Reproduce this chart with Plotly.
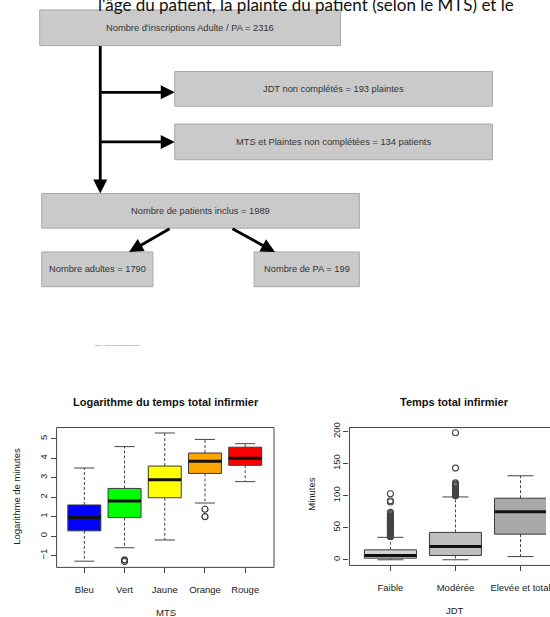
import plotly.graph_objects as go

W, H = 550, 617

# ---------------- data ----------------
flow_labels = [
    "Nombre d'inscriptions Adulte / PA = 2316",
    "JDT non complétés = 193 plaintes",
    "MTS et Plaintes non complétées = 134 patients",
    "Nombre de patients inclus = 1989",
    "Nombre adultes = 1790",
    "Nombre de PA = 199",
]

mts_cats = ["Bleu", "Vert", "Jaune", "Orange", "Rouge"]
mts_low = [-1.29, -0.6, -0.2, 1.7, 2.8]
mts_q1 = [0.27, 0.95, 1.97, 3.22, 3.64]
mts_med = [0.95, 1.8, 2.9, 3.85, 4.0]
mts_q3 = [1.6, 2.45, 3.6, 4.27, 4.57]
mts_high = [3.5, 4.6, 5.3, 4.97, 4.75]
mts_colors = ["#0000FF", "#00FF00", "#FFFF00", "#FFA500", "#FF0000"]
mts_out_cat = [2, 2, 4, 4]
mts_out_val = [-1.22, -1.3, 1.38, 1.0]

jdt_cats = ["Faible", "Modérée", "Elevée et total"]
jdt_low = [0, 0, 5]
jdt_q1 = [2.5, 6.7, 40]
jdt_med = [6.7, 20.6, 75]
jdt_q3 = [15.5, 42.7, 96]
jdt_high = [35, 98, 131]
jdt_colors = ["#d3d3d3", "#bebebe", "#a9a9a9"]
faible_out = [36, 37, 38, 39, 40, 41, 42, 43, 44, 45, 46, 47, 48, 49, 50, 51, 52,
              53, 54, 55, 56, 57, 58, 59, 60, 61, 62, 63, 64, 65, 66, 67, 68, 70,
              72, 74, 90, 92, 103]
moderee_out = [100, 101, 102, 103, 104, 105, 106, 107, 108, 110, 112, 114, 116,
               118, 120, 143, 198]

# ---------------- helpers ----------------
def px(x):
    return x / W

def py(y):
    return 1 - y / H

FONT = "Liberation Sans"
fig = go.Figure()


def add_boxes(xa, ya, lows, q1s, meds, q3s, highs, colors, hw=0.4, cap=0.22):
    for i in range(len(meds)):
        c = i + 1
        fig.add_trace(go.Scatter(
            x=[c - hw, c + hw, c + hw, c - hw, c - hw],
            y=[q1s[i], q1s[i], q3s[i], q3s[i], q1s[i]],
            fill="toself", fillcolor=colors[i], mode="lines",
            line=dict(color="#3a3a3a", width=1), xaxis=xa, yaxis=ya,
            showlegend=False, hoverinfo="skip"))
        fig.add_trace(go.Scatter(
            x=[c, c, None, c, c], y=[q3s[i], highs[i], None, q1s[i], lows[i]],
            mode="lines", line=dict(color="#444", width=1, dash="3px,2px"),
            xaxis=xa, yaxis=ya, showlegend=False, hoverinfo="skip"))
        fig.add_trace(go.Scatter(
            x=[c - cap, c + cap, None, c - cap, c + cap],
            y=[highs[i], highs[i], None, lows[i], lows[i]],
            mode="lines", line=dict(color="#444", width=1),
            xaxis=xa, yaxis=ya, showlegend=False, hoverinfo="skip"))
        fig.add_trace(go.Scatter(
            x=[c - hw, c + hw], y=[meds[i], meds[i]], mode="lines",
            line=dict(color="#111", width=3), xaxis=xa, yaxis=ya,
            showlegend=False, hoverinfo="skip"))


add_boxes("x", "y", mts_low, mts_q1, mts_med, mts_q3, mts_high, mts_colors, hw=0.41, cap=0.25)
fig.add_trace(go.Scatter(x=mts_out_cat, y=mts_out_val, mode="markers",
                         marker=dict(symbol="circle-open", size=6, color="#333",
                                     line=dict(width=1.2)),
                         xaxis="x", yaxis="y", showlegend=False))

add_boxes("x2", "y2", jdt_low, jdt_q1, jdt_med, jdt_q3, jdt_high, jdt_colors, hw=0.4, cap=0.2)
fig.add_trace(go.Scatter(x=[1] * len(faible_out), y=faible_out, mode="markers",
                         marker=dict(symbol="circle-open", size=6, color="#444",
                                     line=dict(width=1.1)),
                         xaxis="x2", yaxis="y2", showlegend=False))
fig.add_trace(go.Scatter(x=[2] * len(moderee_out), y=moderee_out, mode="markers",
                         marker=dict(symbol="circle-open", size=6, color="#444",
                                     line=dict(width=1.1)),
                         xaxis="x2", yaxis="y2", showlegend=False))

axfont = dict(family=FONT, size=9.5, color="#222")

fig.update_layout(
    width=W, height=H, autosize=False,
    margin=dict(l=0, r=0, t=0, b=0),
    paper_bgcolor="white", plot_bgcolor="white",
    showlegend=False,
    xaxis=dict(domain=[px(57), px(276)], range=[0.31, 5.716],
               tickvals=[1, 2, 3, 4, 5], ticktext=mts_cats,
               ticks="outside", ticklen=5, tickcolor="#444",
               showgrid=False, zeroline=False, showline=False,
               tickfont=axfont, ticklabelstandoff=8, ticklabeloverflow="allow",
               anchor="y", fixedrange=True),
    yaxis=dict(domain=[py(567), py(426)], range=[-1.61, 5.58],
               tickvals=[-1, 0, 1, 2, 3, 4, 5], tickangle=-90,
               ticks="outside", ticklen=5, tickcolor="#444",
               showgrid=False, zeroline=False, showline=False,
               tickfont=axfont, ticklabeloverflow="allow", anchor="x", fixedrange=True),
    xaxis2=dict(domain=[px(352), 1], range=[0.37, 3.392],
                tickvals=[1, 2, 3], ticktext=jdt_cats,
                ticks="outside", ticklen=5, tickcolor="#444",
                showgrid=False, zeroline=False, showline=False,
                tickfont=axfont, ticklabelstandoff=8, ticklabeloverflow="allow",
                anchor="y2", fixedrange=True),
    yaxis2=dict(domain=[py(565), py(426)], range=[-8.8, 206.2],
                tickvals=[0, 50, 100, 150, 200], tickangle=-90,
                ticks="outside", ticklen=5, tickcolor="#444",
                showgrid=False, zeroline=False, showline=False,
                tickfont=axfont, ticklabeloverflow="allow", anchor="x2", fixedrange=True),
)

shapes = []
# frames for box plots
shapes.append(dict(type="rect", xref="paper", yref="paper",
                   x0=px(57), x1=px(276), y0=py(567), y1=py(426),
                   line=dict(color="#444", width=1)))
for (x0, y0, x1, y1) in [(352, 426, 560, 426), (352, 565, 560, 565), (352, 426, 352, 565)]:
    shapes.append(dict(type="line", xref="paper", yref="paper",
                       x0=px(x0), x1=px(x1), y0=py(y0), y1=py(y1),
                       line=dict(color="#444", width=1)))

# flowchart boxes (pixel layout)
boxes = [(40, 5, 343, 41), (176, 67, 496, 102), (176, 120, 496, 156),
         (42, 190, 362, 225), (42, 249, 154, 284), (256, 249, 362, 284)]
for (x0, y0, x1, y1) in boxes:
    shapes.append(dict(type="rect", xref="paper", yref="paper",
                       x0=px(x0), x1=px(x1), y0=py(y1), y1=py(y0),
                       fillcolor="#cacaca", line=dict(color="#a8a8a8", width=1),
                       layer="below"))
fig.update_layout(shapes=shapes)


def label(text, x, y, font, angle=0, xanchor="center", yanchor="middle"):
    return dict(text=text, x=px(x), y=py(y), xref="paper", yref="paper",
                showarrow=False, xanchor=xanchor, yanchor=yanchor,
                textangle=angle, font=font)


ann = []
for lab, (x0, y0, x1, y1) in zip(flow_labels, boxes):
    ann.append(label(lab, (x0 + x1) / 2, (y0 + y1) / 2,
                     dict(family=FONT, size=9.3, color="#333")))

# arrows (tip, tail offsets in pixels)
arrows = [((101, 190), (0, -149)), ((176, 88), (-75, 0)), ((176, 138), (-75, 0)),
          ((130, 249), (42, -24)), ((277, 249), (-44, -24))]
for (tx, ty), (ax, ay) in arrows:
    ann.append(dict(text="", x=px(tx), y=py(ty), xref="paper", yref="paper",
                    showarrow=True, ax=ax, ay=ay, arrowhead=2, arrowsize=1,
                    arrowwidth=2.8, arrowcolor="#000", standoff=0))

# clipped document text at top
ann.append(label("l'âge du patient, la plainte du patient (selon le MTS) et le",
                 97, 12, dict(family="Lato", size=17, color="#111"),
                 xanchor="left", yanchor="bottom"))
# tiny caption
ann.append(label("Figure 4 : Schéma d'inclusion des données", 118, 343,
                 dict(family=FONT, size=2.3, color="#555")))

# titles and axis titles
ann += [
    label("<b>Logarithme du temps total infirmier</b>", 167, 400,
          dict(family=FONT, size=11, color="#111")),
    label("<b>Temps total infirmier</b>", 458, 400,
          dict(family=FONT, size=11, color="#111")),
    label("MTS", 167, 612, axfont),
    label("JDT", 458, 610, axfont),
    label("Logarithme de minutes", 17, 495, axfont, angle=-90),
    label("Minutes", 313, 493, axfont, angle=-90),
]
fig.update_layout(annotations=ann)

fig.write_html("out.html",
               config={"displayModeBar": False},
               post_script="document.body.style.margin='0';"
                           "document.body.style.overflow='hidden';")
